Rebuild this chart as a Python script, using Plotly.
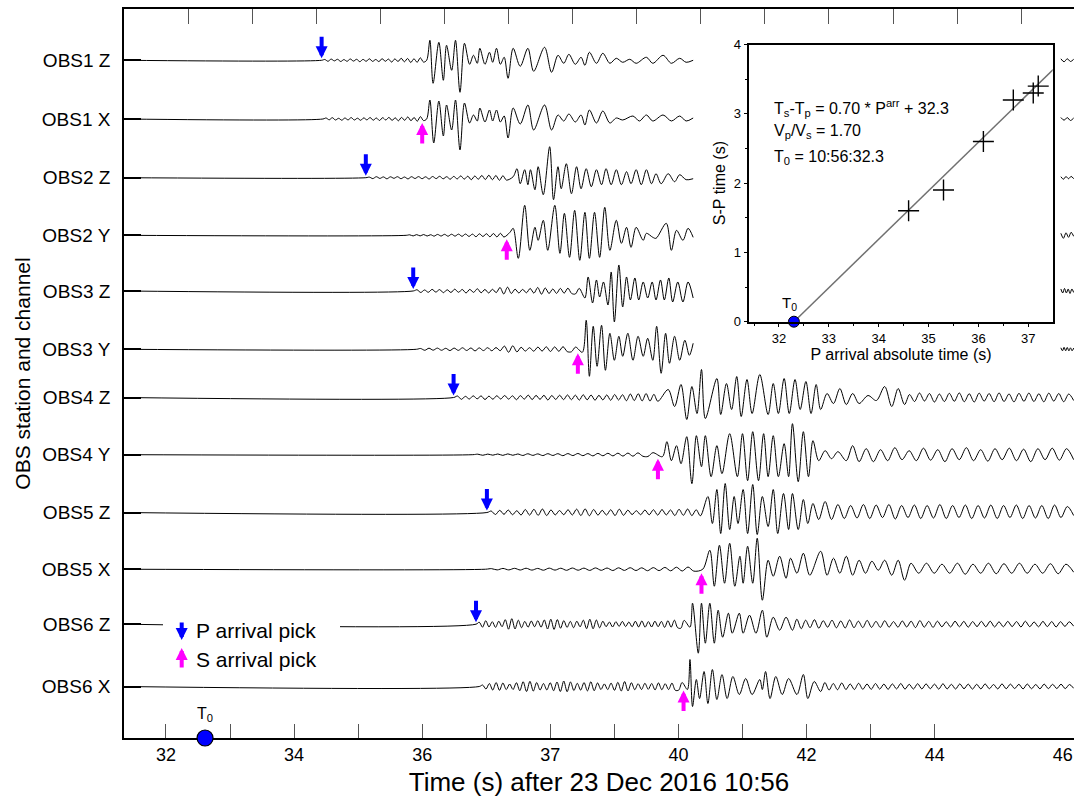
import numpy as np
import plotly.graph_objects as go

# ------------------------------------------------------------------ data
channels = ["OBS1 Z", "OBS1 X", "OBS2 Z", "OBS2 Y", "OBS3 Z", "OBS3 Y",
            "OBS4 Z", "OBS4 Y", "OBS5 Z", "OBS5 X", "OBS6 Z", "OBS6 X"]
channel_offsets = [0.892, 1.913, 2.934, 3.936, 4.904, 5.918,
                   6.757, 7.751, 8.757, 9.743, 10.699, 11.783]
record_start = 31.35
edge_span = (45.97, 46.17)

p_pick_channels = ["OBS1 Z", "OBS2 Z", "OBS3 Z", "OBS4 Z", "OBS5 Z", "OBS6 Z"]
p_pick_times = [34.43, 35.12, 35.86, 36.49, 37.01, 36.84]
s_pick_channels = ["OBS1 X", "OBS2 Y", "OBS3 Y", "OBS4 Y", "OBS5 X", "OBS6 X"]
s_pick_times = [36.00, 37.32, 38.43, 39.68, 40.36, 40.08]

x_label_vals = [32, 34, 36, 38, 40, 42, 44, 46]
x_label_text = ["32", "34", "36", "37", "40", "42", "44", "46"]
x_tick_vals = [32, 33, 34, 35, 36, 37, 38, 39, 40, 41, 42, 43, 44]
top_tick_vals = [32.35, 33.35, 34.35, 35.35, 36.35, 37.35, 38.35, 39.35,
                 40.35, 41.35, 42.35, 43.35, 44.35, 45.35]
t0_main_time = 32.61

# inset: S-P time vs P arrival
p_arrival_abs = [34.6, 35.3, 36.1, 36.7, 37.1, 37.2]
s_minus_p = [1.6, 1.9, 2.6, 3.2, 3.3, 3.4]
fit_x = [32.3, 37.5]
fit_y = [0.0, 3.64]
t0_inset = 32.3
fit_slope = 0.70
fit_intercept = 32.3
vp_vs = 1.70
t0_clock = "10:56:32.3"

# ---- waveforms (amplitudes in screen pixels) ----
# OBS1 Z
OBS1Z_noise_span = (34.43, 36.07)
OBS1Z_noise = [0.8, -1, 1.2, -0.6, 1, -1.2, 0.7, -1, 1.3, -0.8, 1, -1.4, 0.9, -1, 1.5, -1.1,
               0.8, -1.3, 1.6, -1, 1.2, -1.8, 1.4, -1.2, 2, -1.5, 1.8, -2.2, 1.5, -2, 2.5, -1.8]
OBS1Z_t = [36.07, 36.12, 36.17, 36.26, 36.33, 36.38, 36.46, 36.52, 36.59, 36.66, 36.74, 36.80,
           36.86, 36.90, 36.98, 37.05, 37.10, 37.16, 37.22, 37.28, 37.34, 37.42, 37.53, 37.65,
           37.74, 37.91, 38.02, 38.12, 38.21, 38.29, 38.39, 38.48, 38.54, 38.61, 38.72, 38.82,
           38.93, 39.03, 39.13, 39.24, 39.34, 39.50, 39.60, 39.76, 39.89, 40.02, 40.12, 40.23]
OBS1Z_a = [0, 20, -23, 18, -20, 15, -10, 20, -32, 17, -4, 5,
           -3, 12, -4, 8, -2, 12, -4, 3, -18, 12, -6, 12,
           -11, 13, -12, 5, -3, 6, -4, 3, -5, 8, -3, 7,
           -3, 2, -2, 1, -3, 3, -3, 5, -3, 2, -2, 0]
OBS1Z_edge = [1.5, -1.5, 1.5, -1.2, 1]

# OBS1 X
OBS1X_noise_span = (34.45, 36.07)
OBS1X_noise = [1, -0.8, 1.3, -1, 0.7, -1.2, 1, -0.9, 1.4, -1, 0.8, -1.3, 1.1, -0.9, 1.5, -1.2,
               1, -1.5, 1.3, -1, 1.6, -1.4, 1.2, -1.8, 1.6, -1.3, 2.1, -1.7, 1.5, -2.2, 2.4, -1.6]
OBS1X_t = [36.07, 36.12, 36.18, 36.26, 36.33, 36.38, 36.46, 36.52, 36.59, 36.66, 36.74, 36.80,
           36.86, 36.90, 36.98, 37.05, 37.10, 37.16, 37.22, 37.28, 37.34, 37.42, 37.53, 37.65,
           37.74, 37.91, 38.02, 38.12, 38.21, 38.29, 38.39, 38.48, 38.54, 38.61, 38.72, 38.82,
           38.93, 39.03, 39.13, 39.29, 39.39, 39.50, 39.60, 39.76, 39.89, 40.02, 40.12, 40.23]
OBS1X_a = [0, 19, -24, 18, -17, 14, -11, 19, -31, 16, -4, 4,
           -2, 11, -3, 9, -2, 9, -3, 3, -19, 11, -5, 14,
           -11, 14, -11, 4, -2, 5, -3, 4, -6, 9, -4, 8,
           -4, 1, -1, 3, -2, 4, -2, 4, -2, 3, -2, 1]
OBS1X_edge = [1.5, -1.2, 1.4, -1.5, 1]

# OBS2 Z
OBS2Z_noise_span = (35.12, 37.37)
OBS2Z_noise = [0.6, -0.9, 1, -0.7, 0.8, -1.1, 0.9, -0.6, 1, -1, 0.7, -1.2, 1, -0.8, 1.1, -1,
               0.9, -1.3, 1.2, -0.9, 1.4, -1.1, 1, -1.5, 1.3, -1.2, 1.8, -1.4, 1.5, -2, 1.7, -1.5,
               2.2, -1.8, 2.5, -2, 2.2, -2.6, 2, -2.4]
OBS2Z_t = [37.42, 37.48, 37.53, 37.60, 37.65, 37.69, 37.76, 37.81, 37.89, 37.99, 38.05, 38.12,
           38.17, 38.25, 38.33, 38.41, 38.48, 38.56, 38.64, 38.72, 38.80, 38.87, 38.95, 39.03,
           39.11, 39.19, 39.26, 39.34, 39.42, 39.50, 39.58, 39.65, 39.73, 39.84, 39.94, 40.02,
           40.12, 40.23]
OBS2Z_a = [1, 9, -6, 8, -7, 8, -12, 11, -17, 31, -22, 11,
           -11, 14, -16, 11, -11, 9, -9, 8, -7, 9, -7, 8,
           -7, 6, -6, 8, -7, 8, -6, 4, -6, 4, -4, 3,
           -2, -1]
OBS2Z_edge = [1, -1.5, 1.2, -1, 1.3, -1]

# OBS2 Y
OBS2Y_noise_span = (35.75, 37.33)
OBS2Y_noise = [0.5, -0.6, 0.7, -0.6, 0.8, -0.7, 0.6, -0.8, 0.9, -0.7, 1, -0.9, 1.1, -0.8,
               1.2, -1, 1.3, -1.1, 1.2, -1.4, 1.5, -1.2, 1.6, -1.5, 1.8, -1.6, 2, -1.7]
OBS2Y_t = [37.37, 37.42, 37.50, 37.60, 37.68, 37.76, 37.81, 37.89, 37.96, 38.07, 38.15, 38.22,
           38.30, 38.38, 38.46, 38.54, 38.61, 38.69, 38.77, 38.85, 38.93, 39.03, 39.11, 39.19,
           39.26, 39.34, 39.45, 39.50, 39.60, 39.65, 39.81, 39.89, 39.97, 40.07, 40.15, 40.23]
OBS2Y_a = [3, 7, -23, 30, -15, 8, -5, 15, -15, 30, -18, 22,
           -22, 25, -25, 23, -23, 23, -22, 28, -15, 15, -8, 8,
           -12, 8, -5, 2, -2, -3, 12, -15, 5, -5, 7, -2]
OBS2Y_edge = [2, -3, 2.5, -2, 3, -1]

# OBS3 Z
OBS3Z_noise_span = (35.86, 38.51)
OBS3Z_noise = [1.2, -1.5, 1, -1.3, 1.6, -1.1, 1.4, -1.7, 1.2, -1.5, 1.8, -1.3, 1.5, -2, 1.6,
               -1.4, 2.2, -1.8, 1.5, -2, 1.7, -1.6, 3.5, -3, 3.8, -2.5, 1.8, -2, 1.6, -1.8,
               2.5, -2.2, 3.5, -3.2, 3, -2.5, 2, -2.4, 2.6, -2.2, 2.8, -2.5, -3, 2.6]
OBS3Z_t = [38.54, 38.59, 38.66, 38.72, 38.77, 38.83, 38.90, 38.95, 39.00, 39.07, 39.13, 39.19,
           39.25, 39.32, 39.38, 39.45, 39.52, 39.59, 39.65, 39.72, 39.78, 39.85, 39.91, 39.99,
           40.07, 40.15, 40.23]
OBS3Z_a = [-7, 14, -12, 11, -6, 9, -14, 19, -31, 26, -16, 14,
           -9, 13, -9, 9, -7, 9, -9, 11, -9, 13, -11, 9,
           -11, 9, -7]
OBS3Z_edge = [2, -2, 2.5, -2, 2, -2.5, 2, -1.5]

# OBS3 Y
OBS3Y_noise_span = (35.91, 38.46)
OBS3Y_noise = [0.8, -1, 1.1, -0.9, 1.2, -1, 1, -1.3, 1.2, -1.1, 1.5, -1.2, 1.3, -1.6, 1.4,
               -1.3, 1.6, -1.5, 1.7, -1.4, 3.2, -3, 3.5, -2.6, 2, -1.8, 1.6, -1.9, 2.2, -1.8,
               2.5, -2.2, 2.4, -2, 2.6, -2.3, -2.5, 2.2]
OBS3Y_t = [38.50, 38.56, 38.61, 38.67, 38.73, 38.80, 38.86, 38.93, 39.00, 39.07, 39.13, 39.21,
           39.29, 39.37, 39.45, 39.52, 39.60, 39.66, 39.73, 39.80, 39.86, 39.94, 40.02, 40.10,
           40.17, 40.23]
OBS3Y_a = [-3, 29, -27, 23, -17, 24, -21, 16, -11, 13, -7, 16,
           -11, 13, -7, 11, -11, 23, -24, 16, -14, 13, -11, 9,
           -6, 6]
OBS3Y_edge = [1.5, -1.5, 2, -1.5, 1.8, -1.6, 1.5, -1.5, 1.2]

# OBS4 Z
OBS4Z_noise_span = (36.49, 39.74)
OBS4Z_noise = [1.5, -1.8, 1.2, -1.5, 1.7, -1.3, 1.6, -2, 1.4, -1.7, 1.8, -1.5, 2, -1.6, 1.7,
               -2.2, 1.9, -1.6, 2.4, -2, 2.1, -1.8, 2.2, -2.5, 2, -1.9, 2.3, -2.1, 2.6, -2.2,
               2.4, -2.6, 2.8, -2.3, 2.5, -2.7, 2.2, -2.4, 2.6, -2.8, 3, -2.5, 2.8, -3.2, 3.5,
               -3, 3.8, -3.4, 4, -3.5, 3.2, -3.8]
OBS4Z_t = [39.84, 39.94, 40.04, 40.13, 40.21, 40.29, 40.36, 40.42, 40.60, 40.66, 40.75, 40.83,
           40.91, 40.98, 41.07, 41.15, 41.27, 41.40, 41.48, 41.56, 41.65, 41.73, 41.82, 41.90,
           41.99, 42.07, 42.15, 42.22, 42.32, 42.42, 42.52, 42.62, 42.72, 42.82, 42.96, 43.09,
           43.22, 43.33, 43.43, 43.53]
OBS4Z_a = [8, -9, 13, -22, 11, -16, 28, -21, 19, -17, 14, -12,
           21, -19, 18, -16, 23, -17, 14, -16, 19, -16, 18, -12,
           16, -16, 13, -12, 4, -6, 9, -7, 4, -6, 2, -3,
           11, -9, 9, -7]
OBS4Z_coda_span = (43.53, 46.17)
OBS4Z_coda = [3, -4, 4.5, -3.5, 4, -4.5, 3.5, -4, 4.2, -3.8, 4.6, -4.2, 3.8, -4.5, 4.4, -3.6,
              4, -4.2, 4.6, -4, 3.6, -4.4, 4.2, -3.8, 4.5, -4, 3.8, -4.3, 4.4, -3.6, 4, -4.2,
              3.5, -3]

# OBS4 Y
OBS4Y_noise_span = (36.79, 39.68)
OBS4Y_noise = [0.5, -0.6, 0.6, -0.5, 0.7, -0.7, 0.8, -0.6, 0.7, -0.8, 0.9, -0.7, 0.8, -0.9,
               1, -0.8, 1, -1, 1.1, -0.9, 1.2, -1, 1.1, -1.2, 1.3, -1.1, 1.4, -1.2, 1.5, -1.4,
               1.6, -1.5, 1.8, -1.6, -1.8, 2]
OBS4Y_t = [39.75, 39.82, 39.89, 39.97, 40.04, 40.13, 40.21, 40.28, 40.36, 40.42, 40.51, 40.60,
           40.68, 40.80, 40.92, 41.00, 41.08, 41.16, 41.25, 41.33, 41.40, 41.48, 41.56, 41.65,
           41.72, 41.78, 41.87, 41.95, 42.03, 42.10, 42.19, 42.29, 42.39, 42.49, 42.62, 42.72,
           42.82]
OBS4Y_a = [-2, 13, -6, 9, -9, 18, -29, 19, -12, 19, -22, 9,
           -19, 21, -22, 21, -26, 23, -26, 21, -22, 19, -22, 11,
           -22, 31, -27, 23, -22, 14, -6, 4, -4, 3, -6, 9,
           -7]
OBS4Y_coda_span = (42.82, 46.17)
OBS4Y_coda = [6, -7, 5, -6, 7, -5, 4, -6, 6.5, -5.5, 5, -7, 6, -5, 7, -6, 5, -6.5, 6, -5,
              6.5, -6, 5.5, -7, 6, -5, 6.5, -5.5, 6, -5]

# OBS5 Z
OBS5Z_noise_span = (37.01, 40.41)
OBS5Z_noise = [1.5, -2, 2.2, -1.8, 2.5, -2.2, 1.8, -2.5, 3, -2.6, 3.2, -2.8, 3.5, -3, 2.6,
               -2.4, 2, -2.2, 2.8, -2.5, 3.4, -3, 3.6, -3.2, 3, -2.6, 2.2, -2.5, 2.8, -3, 3.3,
               -2.8, 2.4, -2, 1.8, -2.2, 2.5, -2.3, 2.8, -2.6, 3, -2.4, 2.6, -3, 3.2, -2.8,
               3.5, -3.1, 2.8, -3.3]
OBS5Z_t = [40.46, 40.53, 40.60, 40.66, 40.73, 40.80, 40.87, 40.93, 41.01, 41.08, 41.16, 41.23,
           41.31, 41.40, 41.48, 41.55, 41.64, 41.72, 41.78, 41.87, 41.95, 42.02, 42.10, 42.19,
           42.29, 42.39]
OBS5Z_a = [16, -11, 23, -21, 29, -17, 16, -11, 23, -21, 28, -22,
           16, -14, 23, -21, 19, -17, 19, -17, 13, -11, 9, -7,
           11, -7]
OBS5Z_coda_span = (42.39, 46.17)
OBS5Z_coda = [8, -6, 7, -5.5, 8, -6, 7.5, -5, 8, -6.5, 7, -5, 7.5, -6, 7, -5.5, 8, -6, 7, -5,
              7.5, -6, 7, -5.5, 7.5, -6, 7, -5, 7.5, -6, 7, -5.5, 7, -6, 7.5, -5, 6, -3]

# OBS5 X
OBS5X_noise_span = (36.99, 40.33)
OBS5X_noise = [0.6, -0.7, 0.8, -0.7, 0.9, -0.8, 1, -0.9, 0.8, -1, 1.1, -0.9, 1, -1.1, 1.2,
               -1, 1.1, -1.2, 1.3, -1.1, 1.2, -1.3, 1.4, -1.2, 1.5, -1.3, 1.4, -1.5, 1.6, -1.4,
               1.8, -1.6, 2, -1.8, 2.2, -1.9]
OBS5X_t = [40.38, 40.49, 40.56, 40.64, 40.72, 40.80, 40.88, 40.96, 41.01, 41.08, 41.16, 41.23,
           41.31, 41.40, 41.48, 41.58, 41.68, 41.75, 41.85, 41.95, 42.05, 42.22, 42.32, 42.42,
           42.52, 42.62, 42.72, 42.82, 42.92, 43.02, 43.12, 43.22, 43.33, 43.43, 43.53, 43.63]
OBS5X_a = [0, 19, -17, 24, -14, 26, -17, 13, -14, 23, -14, 31,
           -31, 9, -7, 13, -9, 11, -4, 16, -6, 18, -6, 11,
           -4, 13, -6, 9, -4, 8, -1, 9, -6, 9, -11, 6]
OBS5X_coda_span = (43.63, 46.17)
OBS5X_coda = [-4, 6, -4, 5, -4, 6, -5, 5, -4, 6, -4.5, 5.5, -4, 6, -4, 5, -4, 5.5, -4.5, 5, -3]

# OBS6 Z
OBS6Z_noise_span = (36.84, 40.14)
OBS6Z_noise = [2, -3, 3.5, -2.8, 2.5, -3.2, 3, -2.5, 4.5, -5, 5.5, -4.8, 4, -3.5, 2.8, -3,
               3.2, -2.6, 3.5, -3, 4.2, -4.8, 5, -5.2, 4.6, -4, 3.6, -3.2, 2.8, -3.5, 3, -2.6,
               4, -4.5, 5, -4.6, 4.2, -3.6, 3, -2.5, 2.2, -2.8, 2.5, -2.2, 2.8, -2.4, 2.2,
               -2.6, 3, -2.8, 3.2, -3, 2.6, -2.8, 3, -2.5, 2.8, -3.2, 3.5, -3, 4, -3.5, -4, 3.8]
OBS6Z_t = [40.18, 40.22, 40.31, 40.36, 40.42, 40.49, 40.56, 40.62, 40.69, 40.78, 40.84, 40.95,
           41.01, 41.11, 41.21, 41.31, 41.38, 41.48, 41.58, 41.68, 41.78]
OBS6Z_a = [-3, 21, -29, 21, -19, 21, -19, 14, -13, 11, -9, 11,
           -9, 9, -9, 14, -13, 7, -6, 7, -6]
OBS6Z_coda_span = (41.78, 46.17)
OBS6Z_coda = [5, -4.5, 4, -3.5, 4.5, -4, 3.5, -3, 4, -3.6, 3.2, -3.8, 4.2, -3.5, 3, -3.4,
              3.8, -3.2, 2.8, -3.2, 3.5, -3, 2.6, -3, 3.2, -2.8, 3, -3.4, 3.6, -3, 2.8, -3.2,
              3, -2.6, 2.4, -2.8, 3, -2.6, 2.8, -3, 2.6, -2.4, 2.8, -2.6, 3, -2.8, 2.4, -2.6,
              2.8, -2.4, 2.6, -2.8, 3, -2.5, 2.2, -2.6, 2.8, -2.4, 2.6, -2.8, 2.5, -2.2, 2.4, -2]

# OBS6 X
OBS6X_noise_span = (36.89, 40.11)
OBS6X_noise = [1.5, -2.5, 3, -3.5, 4, -3.8, 3.5, -3, 2.5, -3, 3.8, -4.2, 4.8, -5, 5.2, -4.6,
               4, -3.5, 3, -3.4, 3.8, -4.2, 4.5, -5, 5.5, -5.2, 4.6, -4, 3.2, -3.6, 4, -4.4,
               4.8, -4.2, 3.6, -3, 2.6, -3, 3.4, -3.8, 4.2, -4.5, 5, -4.4, 3.8, -3.2, 2.8, -3,
               3.2, -2.8, 3, -3.4, 3.6, -3.2, 2.8, -3, 3.4, -3.8, -3.6, 4]
OBS6X_t = [40.14, 40.18, 40.22, 40.28, 40.33, 40.40, 40.46, 40.53, 40.60, 40.68, 40.76, 40.85,
           40.95, 41.05, 41.15, 41.27, 41.31, 41.36, 41.43, 41.52, 41.62, 41.72, 41.85, 41.95,
           42.02, 42.12, 42.22]
OBS6X_a = [-3, 27, -20, 7, -12, 15, -17, 17, -13, 12, -12, 10,
           -8, 8, -8, 7, -3, 15, -12, 10, -8, 8, -8, 12,
           -12, 5, -5]
OBS6X_coda_span = (42.22, 46.17)
OBS6X_coda = [4, -3.5, 3, -3.2, 3.5, -3, 2.6, -3, 3.2, -2.8, 2.5, -2.8, 3, -2.6, 2.4, -2.8,
              2.6, -2.4, 3, -2.6, 2.2, -2.5, 2.8, -2.4, 2.6, -2.2, 2.4, -2.6, 2.8, -2.4, 2.2,
              -2.5, 2.6, -2.2, 2.4, -2.6, 2.2, -2.4, 2.6, -2.2, 2, -2.4, 2.6, -2.2, 2.4, -2,
              2.2, -2.4, 2.5, -2.2, 2, -2.3, 2.4, -2.1, 2.2, -2, 2.3, -2.1, 2, -1.8]

waveforms = {
    "OBS1 Z": (OBS1Z_noise_span, OBS1Z_noise, OBS1Z_t, OBS1Z_a, None, None, OBS1Z_edge),
    "OBS1 X": (OBS1X_noise_span, OBS1X_noise, OBS1X_t, OBS1X_a, None, None, OBS1X_edge),
    "OBS2 Z": (OBS2Z_noise_span, OBS2Z_noise, OBS2Z_t, OBS2Z_a, None, None, OBS2Z_edge),
    "OBS2 Y": (OBS2Y_noise_span, OBS2Y_noise, OBS2Y_t, OBS2Y_a, None, None, OBS2Y_edge),
    "OBS3 Z": (OBS3Z_noise_span, OBS3Z_noise, OBS3Z_t, OBS3Z_a, None, None, OBS3Z_edge),
    "OBS3 Y": (OBS3Y_noise_span, OBS3Y_noise, OBS3Y_t, OBS3Y_a, None, None, OBS3Y_edge),
    "OBS4 Z": (OBS4Z_noise_span, OBS4Z_noise, OBS4Z_t, OBS4Z_a, OBS4Z_coda_span, OBS4Z_coda, None),
    "OBS4 Y": (OBS4Y_noise_span, OBS4Y_noise, OBS4Y_t, OBS4Y_a, OBS4Y_coda_span, OBS4Y_coda, None),
    "OBS5 Z": (OBS5Z_noise_span, OBS5Z_noise, OBS5Z_t, OBS5Z_a, OBS5Z_coda_span, OBS5Z_coda, None),
    "OBS5 X": (OBS5X_noise_span, OBS5X_noise, OBS5X_t, OBS5X_a, OBS5X_coda_span, OBS5X_coda, None),
    "OBS6 Z": (OBS6Z_noise_span, OBS6Z_noise, OBS6Z_t, OBS6Z_a, OBS6Z_coda_span, OBS6Z_coda, None),
    "OBS6 X": (OBS6X_noise_span, OBS6X_noise, OBS6X_t, OBS6X_a, OBS6X_coda_span, OBS6X_coda, None),
}

# ------------------------------------------------------------------ layout constants
W, H = 1074, 803
M_L, M_R, M_T, M_B = 124, 0, 9, 65
PX_PER_UNIT = 57.5                       # vertical trace spacing unit (px)
Y_BOTTOM = (H - M_T - M_B) / PX_PER_UNIT
X_RANGE = [31.345, 46.175]
GAIN = 1.0 / PX_PER_UNIT                 # amplitude (px) -> axis units
BLUE = "#0000ff"
MAGENTA = "#ff00ff"
SANS = "Liberation Sans, Arial, Helvetica, sans-serif"


def build_trace(noise_span, noise, sig_t, sig_a, coda_span, coda, edge):
    t = [record_start, noise_span[0]]
    a = [0.0, 0.0]
    nt = np.linspace(noise_span[0], noise_span[1], len(noise) + 2)[1:-1]
    t += list(nt)
    a += list(noise)
    t += list(sig_t)
    a += list(sig_a)
    if coda:
        ct = np.linspace(coda_span[0], coda_span[1], len(coda) + 1)[1:]
        t += list(ct)
        a += list(coda)
    if edge:
        et = np.linspace(edge_span[0], edge_span[1], len(edge))
        t.append(None)
        a.append(None)
        t += list(et)
        a += list(edge)
    return t, a


fig = go.Figure()

for name, off in zip(channels, channel_offsets):
    t, a = build_trace(*waveforms[name])
    y = [None if v is None else off - v * GAIN for v in a]
    fig.add_trace(go.Scatter(
        x=t, y=y, mode="lines", line=dict(color="black", width=1, shape="spline", smoothing=0.9),
        connectgaps=False, hoverinfo="skip", showlegend=False, xaxis="x", yaxis="y"))

# placeholders so the overlaid tick axes get drawn
for ax_name in ("x3", "x4"):
    fig.add_trace(go.Scatter(x=[None], y=[None], mode="lines", xaxis=ax_name, yaxis="y",
                             showlegend=False, hoverinfo="skip"))

# T0 on main time axis
fig.add_trace(go.Scatter(
    x=[t0_main_time], y=[Y_BOTTOM], mode="markers",
    marker=dict(size=16, color=BLUE, line=dict(color="black", width=1.2)),
    cliponaxis=False, showlegend=False, hoverinfo="skip", xaxis="x", yaxis="y"))

# ---------------- inset
fig.add_trace(go.Scatter(
    x=fit_x, y=fit_y, mode="lines", line=dict(color="#707070", width=1.5),
    showlegend=False, hoverinfo="skip", xaxis="x2", yaxis="y2"))
fig.add_trace(go.Scatter(
    x=p_arrival_abs, y=s_minus_p, mode="markers",
    marker=dict(symbol="cross-thin", size=15, line=dict(color="black", width=1.4)),
    showlegend=False, hoverinfo="skip", xaxis="x2", yaxis="y2"))
fig.add_trace(go.Scatter(
    x=[t0_inset], y=[0], mode="markers",
    marker=dict(size=11, color=BLUE, line=dict(color="black", width=1)),
    cliponaxis=False, showlegend=False, hoverinfo="skip", xaxis="x2", yaxis="y2"))

annotations = []
offset_of = dict(zip(channels, channel_offsets))
for ch, tp in zip(p_pick_channels, p_pick_times):
    annotations.append(dict(
        x=tp, y=offset_of[ch], xref="x", yref="y", text="", showarrow=True,
        arrowhead=2, arrowsize=0.6, arrowwidth=4, arrowcolor=BLUE,
        ax=0, ay=-25, standoff=2))
for ch, ts in zip(s_pick_channels, s_pick_times):
    annotations.append(dict(
        x=ts, y=offset_of[ch], xref="x", yref="y", text="", showarrow=True,
        arrowhead=2, arrowsize=0.6, arrowwidth=4, arrowcolor=MAGENTA,
        ax=0, ay=26, standoff=4))


def px2paper(px, py):
    return (px - M_L) / (W - M_L - M_R), 1 - (py - M_T) / (H - M_T - M_B)


# legend (arrows + labels)
lx, ly = px2paper(181.7, 640)
annotations.append(dict(x=lx, y=ly, xref="paper", yref="paper", text="", showarrow=True,
                        arrowhead=2, arrowsize=0.6, arrowwidth=4, arrowcolor=BLUE,
                        ax=0, ay=-19, standoff=0))
lx, ly = px2paper(181.7, 648)
annotations.append(dict(x=lx, y=ly, xref="paper", yref="paper", text="", showarrow=True,
                        arrowhead=2, arrowsize=0.6, arrowwidth=4, arrowcolor=MAGENTA,
                        ax=0, ay=21, standoff=0))
tx, ty = px2paper(194, 630)
annotations.append(dict(x=tx, y=ty, xref="paper", yref="paper", text="P arrival pick",
                        showarrow=False, xanchor="left", yanchor="middle",
                        font=dict(family=SANS, size=21, color="black")))
tx, ty = px2paper(194, 659)
annotations.append(dict(x=tx, y=ty, xref="paper", yref="paper", text="S arrival pick",
                        showarrow=False, xanchor="left", yanchor="middle",
                        font=dict(family=SANS, size=21, color="black")))

# T0 label on main axis
annotations.append(dict(x=t0_main_time, y=Y_BOTTOM, xref="x", yref="y", text="T<sub>0</sub>",
                        showarrow=False, yshift=24, font=dict(family=SANS, size=16, color="black")))
# T0 label in inset
annotations.append(dict(x=t0_inset, y=0, xref="x2", yref="y2", text="T<sub>0</sub>",
                        showarrow=False, yshift=18, xshift=-4,
                        font=dict(family=SANS, size=15, color="black")))

# inset equations
eq_lines = [
    f"T<sub>s</sub>-T<sub>p</sub> = {fit_slope:.2f} * P<sup>arr</sup> + {fit_intercept:.1f}",
    f"V<sub>p</sub>/V<sub>s</sub> = {vp_vs:.2f}",
    f"T<sub>0</sub> = {t0_clock}",
]
for txt, yy in zip(eq_lines, [0.772, 0.686, 0.592]):
    annotations.append(dict(x=0.074, y=yy, xref="x2 domain", yref="y2 domain", text=txt,
                            showarrow=False, xanchor="left", yanchor="middle",
                            font=dict(family=SANS, size=16, color="black")))

# white box behind legend
lx0, ly0 = px2paper(163, 676)
lx1, ly1 = px2paper(340, 610)
shapes = [dict(type="rect", xref="paper", yref="paper", x0=lx0, x1=lx1, y0=ly0, y1=ly1,
               fillcolor="white", line=dict(width=0), layer="above")]

# inset domain from pixel frame
ix0, iy1 = px2paper(749.3, 44.5)
ix1, iy0 = px2paper(1052.7, 321.7)

fig.update_layout(
    width=W, height=H,
    margin=dict(l=M_L, r=M_R, t=M_T, b=M_B, pad=0, autoexpand=False),
    paper_bgcolor="white", plot_bgcolor="white",
    showlegend=False,
    font=dict(family=SANS, color="black"),
    xaxis=dict(
        domain=[0, 1], range=X_RANGE, anchor="y", side="bottom", automargin=False,
        tickmode="array", tickvals=x_label_vals, ticktext=x_label_text, ticks="",
        tickfont=dict(family=SANS, size=18, color="black"), ticklabeloverflow="allow",
        showline=True, linecolor="black", linewidth=1.5, showgrid=False, zeroline=False,
        layer="below traces",
        title=dict(text="Time (s) after 23 Dec 2016 10:56",
                   font=dict(family=SANS, size=26, color="black"), standoff=8),
    ),
    xaxis3=dict(
        overlaying="x", range=X_RANGE, anchor="y", side="bottom", automargin=False,
        tickmode="array", tickvals=x_tick_vals, ticks="inside", ticklen=14, tickwidth=1,
        tickcolor="#555555", showticklabels=False, showline=False, showgrid=False,
        zeroline=False, layer="below traces",
    ),
    xaxis4=dict(
        overlaying="x", range=X_RANGE, anchor="y", side="top", automargin=False,
        tickmode="array", tickvals=top_tick_vals, ticks="inside", ticklen=15, tickwidth=1,
        tickcolor="#555555", showticklabels=False, showline=True, linecolor="black",
        linewidth=1.5, showgrid=False, zeroline=False,
    ),
    yaxis=dict(
        domain=[0, 1], range=[Y_BOTTOM, 0], anchor="x", automargin=False,
        tickmode="array", tickvals=channel_offsets, ticktext=channels,
        ticks="inside", ticklen=17, tickwidth=1.5, tickcolor="black",
        tickfont=dict(family=SANS, size=19, color="black"), ticklabelstandoff=8,
        showline=True, linecolor="black", linewidth=1.5, showgrid=False, zeroline=False,
        title=dict(text="OBS station and channel", font=dict(family=SANS, size=21, color="black"),
                   standoff=5),
    ),
    xaxis2=dict(
        domain=[ix0, ix1], anchor="y2", range=[31.405, 37.49], automargin=False,
        tickmode="array", tickvals=[32, 33, 34, 35, 36, 37], ticks="outside", ticklen=4,
        tickcolor="black", minor=dict(ticks="outside", dtick=0.5, tick0=0, ticklen=2.5,
                                      tickcolor="black"),
        tickfont=dict(family=SANS, size=13, color="black"),
        showline=True, mirror=True, linecolor="black", linewidth=1.5, showgrid=False,
        zeroline=False,
        title=dict(text="P arrival absolute time (s)", font=dict(family=SANS, size=16),
                   standoff=2),
    ),
    yaxis2=dict(
        domain=[iy0, iy1], anchor="x2", range=[0, 4], automargin=False,
        tickmode="array", tickvals=[0, 1, 2, 3, 4], ticks="outside", ticklen=4,
        tickcolor="black", minor=dict(ticks="outside", dtick=0.5, tick0=0, ticklen=2.5,
                                      tickcolor="black"),
        tickfont=dict(family=SANS, size=13, color="black"),
        showline=True, mirror=True, linecolor="black", linewidth=1.5, showgrid=False,
        zeroline=False,
        title=dict(text="S-P time (s)", font=dict(family=SANS, size=16), standoff=4),
    ),
    annotations=annotations,
    shapes=shapes,
)

# remove the default page margin so the 1074x803 figure fills the window exactly
page_fix = ("document.body.style.margin='0px';document.body.style.padding='0px';"
            "document.documentElement.style.overflow='hidden';")
fig.write_html("out.html", post_script=page_fix, config={"displayModeBar": False})
